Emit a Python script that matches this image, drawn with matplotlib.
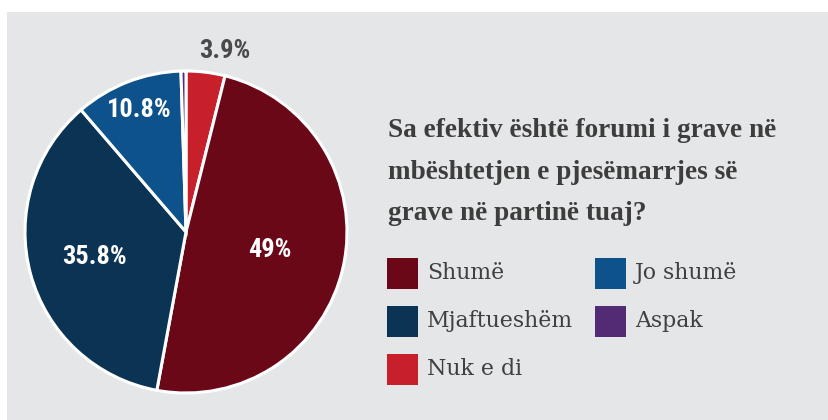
import matplotlib
matplotlib.use("Agg")
import matplotlib.pyplot as plt
from matplotlib.patches import Rectangle
import numpy as np

labels = ["Nuk e di", "Shumë", "Mjaftueshëm", "Jo shumë", "Aspak"]
values = [3.9, 49, 35.8, 10.8, 0.5]
value_labels = ["3.9%", "49%", "35.8%", "10.8%", ""]
colors = ["#c8202b", "#6b0818", "#0b3354", "#0d528b", "#532a74"]
legend_order = ["Shumë", "Mjaftueshëm", "Nuk e di", "Jo shumë", "Aspak"]
title = "Sa efektiv është forumi i grave në\nmbështetjen e pjesëmarrjes së\ngrave në partinë tuaj?"

W, H = 829, 420
fig = plt.figure(figsize=(W / 100, H / 100), dpi=100)
fig.patch.set_facecolor("white")
fig.patches.append(Rectangle((7 / W, 0), 1 - 7 / W, 1 - 12 / H, transform=fig.transFigure,
                             facecolor="#e5e6e8", edgecolor="none", zorder=-5))

cx, cy, r = 186, 232, 161
ax = fig.add_axes([(cx - r) / W, (H - cy - r) / H, 2 * r / W, 2 * r / H])
ax.set_zorder(2)
ax.set_facecolor("none")
wedges, _ = ax.pie(values, colors=colors, startangle=90, counterclock=False,
                   wedgeprops=dict(edgecolor="white", linewidth=2.2))
ax.set_xlim(-1, 1)
ax.set_ylim(-1, 1)
ax.set_aspect("equal")
ax.axis("off")

dists = [1.15, 0.53, 0.59, 0.81, 0]
ang_shift = [-5, 0, 0, 0, 0]
lab_font = ["Roboto Condensed", "Roboto", "DejaVu Sans"]
for w, txt, d, s in zip(wedges, value_labels, dists, ang_shift):
    if not txt:
        continue
    ang = np.deg2rad((w.theta1 + w.theta2) / 2 + s)
    x, y = d * np.cos(ang), d * np.sin(ang)
    col = "#4a4a4a" if d > 1 else "white"
    ax.text(x, y, txt, ha="center", va="center", color=col, fontsize=19,
            fontweight="bold", family=lab_font, clip_on=False)

fig.text(388 / W, 1 - 118 / H, title, ha="left", va="top", fontsize=19.6,
         fontweight="bold", family=["Liberation Serif", "DejaVu Serif"], color="#3d3d3d",
         linespacing=1.87)

lab_to_col = dict(zip(labels, colors))
positions = [(387, 273), (387, 321), (387, 369), (595, 273), (595, 321)]
for name, (x, y) in zip(legend_order, positions):
    fig.patches.append(Rectangle((x / W, 1 - (y + 15.5) / H), 31 / W, 31 / H,
                                 transform=fig.transFigure, facecolor=lab_to_col[name],
                                 edgecolor="none"))
    fig.text((x + 40) / W, 1 - y / H, name, ha="left", va="center", fontsize=15.8,
             family=["DejaVu Serif"], color="#404040")

fig.savefig("out.png", dpi=100, facecolor=fig.get_facecolor())
